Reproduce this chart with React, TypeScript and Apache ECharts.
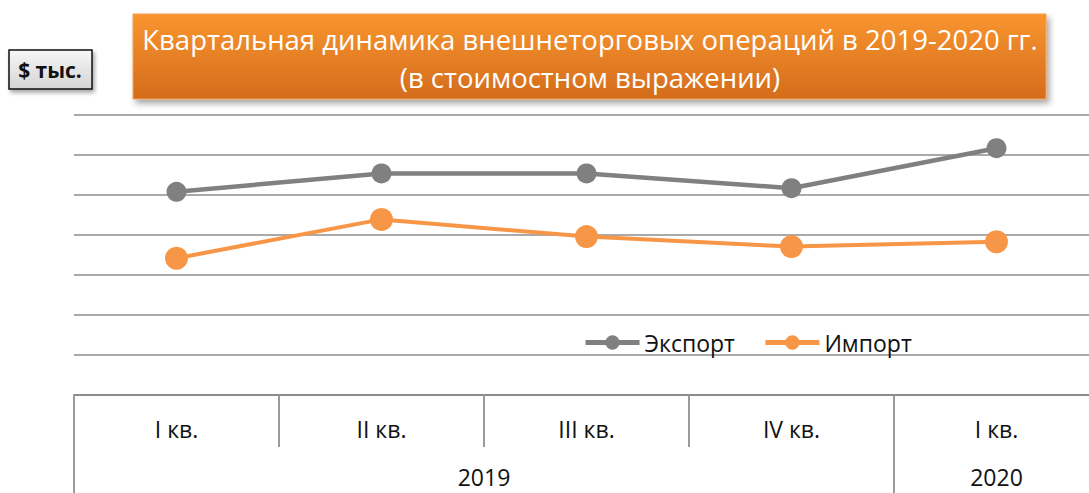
import React, { useEffect, useRef } from "react";
import * as echarts from "echarts";

const quarters = ["I кв.", "II кв.", "III кв.", "IV кв.", "I кв."];
const years = ["2019", "2020"];
const yearCenters = [2, 4.5];
const yearBounds = [0, 4];
const exportValues = [508, 554, 554, 517, 617];
const importValues = [342, 439, 396, 371, 383];
const titleText = "Квартальная динамика внешнеторговых операций в 2019-2020 гг.\n(в стоимостном выражении)";
const unitText = "$ тыс.";

const FONT = "'Open Sans', 'Noto Sans', sans-serif";
const GRID_COLOR = "#8c8c8c";

export default function App() {
  const ref = useRef<HTMLDivElement>(null);
  useEffect(() => {
    document.documentElement.style.overflow = "hidden";
    document.body.style.overflow = "hidden";
    const chart = echarts.init(ref.current!, undefined, { renderer: "svg" });
    chart.setOption({
      animation: false,
      backgroundColor: "#ffffff",
      textStyle: { fontFamily: FONT },
      grid: { left: 74, top: 115, bottom: 98, right: 1 },
      legend: {
        left: 578,
        top: 326,
        itemWidth: 54,
        itemHeight: 18,
        itemGap: 28,
        textStyle: { fontSize: 23, color: "#111", fontFamily: FONT },
        data: [
          { name: "Экспорт", lineStyle: { width: 5 } },
          { name: "Импорт", lineStyle: { width: 5 } },
        ],
      },
      xAxis: [
        {
          type: "category",
          data: quarters,
          boundaryGap: true,
          axisLine: { show: true, lineStyle: { color: GRID_COLOR, width: 2 } },
          axisTick: { show: true, interval: 0, length: 52, lineStyle: { color: "#9a9a9a", width: 2 } },
          axisLabel: { interval: 0, fontSize: 23, color: "#111", margin: 22, fontFamily: FONT },
          splitLine: { show: false },
        },
        {
          type: "value",
          position: "bottom",
          offset: 52,
          min: 0,
          max: 5,
          axisLine: { show: false },
          axisTick: { show: true, customValues: yearBounds, length: 46, lineStyle: { color: "#9a9a9a", width: 2 } },
          axisLabel: {
            show: true,
            customValues: yearCenters,
            fontSize: 23,
            color: "#111",
            margin: 18,
            fontFamily: FONT,
            formatter: (v: number) => years[yearCenters.indexOf(v)] ?? "",
          },
          splitLine: { show: false },
        },
      ],
      yAxis: {
        type: "value",
        min: 0,
        max: 700,
        interval: 100,
        axisLine: { show: false },
        axisTick: { show: false },
        axisLabel: { show: false },
        splitLine: { show: true, lineStyle: { color: GRID_COLOR, width: 1.5 } },
      },
      series: [
        {
          name: "Экспорт",
          type: "line",
          xAxisIndex: 0,
          data: exportValues,
          symbol: "circle",
          symbolSize: 20,
          lineStyle: { color: "#808080", width: 4.5 },
          itemStyle: { color: "#808080" },
          z: 3,
        },
        {
          name: "Импорт",
          type: "line",
          xAxisIndex: 0,
          data: importValues,
          symbol: "circle",
          symbolSize: 23,
          lineStyle: { color: "#F79646", width: 4 },
          itemStyle: { color: "#F79646" },
          z: 3,
        },
      ],
      graphic: [
        {
          type: "rect",
          shape: { x: 133, y: 14, width: 913, height: 85 },
          style: {
            fill: new echarts.graphic.LinearGradient(0, 0, 0, 1, [
              { offset: 0, color: "#F99530" },
              { offset: 1, color: "#D46C1C" },
            ]),
            stroke: "#F5A055",
            lineWidth: 1,
            shadowBlur: 6,
            shadowOffsetX: 3,
            shadowOffsetY: 4,
            shadowColor: "rgba(0,0,0,0.35)",
          },
          z: 10,
        },
        {
          type: "text",
          x: 590,
          y: 58,
          style: {
            text: titleText,
            fill: "#ffffff",
            font: `27.5px ${FONT}`,
            align: "center",
            verticalAlign: "middle",
            lineHeight: 38,
          },
          z: 11,
        },
        {
          type: "rect",
          shape: { x: 9, y: 50, width: 83, height: 39 },
          style: {
            fill: new echarts.graphic.LinearGradient(0, 0, 0, 1, [
              { offset: 0, color: "#F7F7F7" },
              { offset: 1, color: "#D4D4D4" },
            ]),
            stroke: "#111111",
            lineWidth: 1.5,
            shadowBlur: 4,
            shadowOffsetX: 2,
            shadowOffsetY: 3,
            shadowColor: "rgba(0,0,0,0.35)",
          },
          z: 10,
        },
        {
          type: "text",
          x: 50,
          y: 70,
          style: {
            text: unitText,
            fill: "#111111",
            font: `bold 21px ${FONT}`,
            align: "center",
            verticalAlign: "middle",
          },
          z: 11,
        },
      ],
    });
    return () => chart.dispose();
  }, []);
  return (
    <div
      ref={ref}
      style={{ position: "fixed", left: 0, top: 0, width: 1100, height: 493 }}
    />
  );
}
